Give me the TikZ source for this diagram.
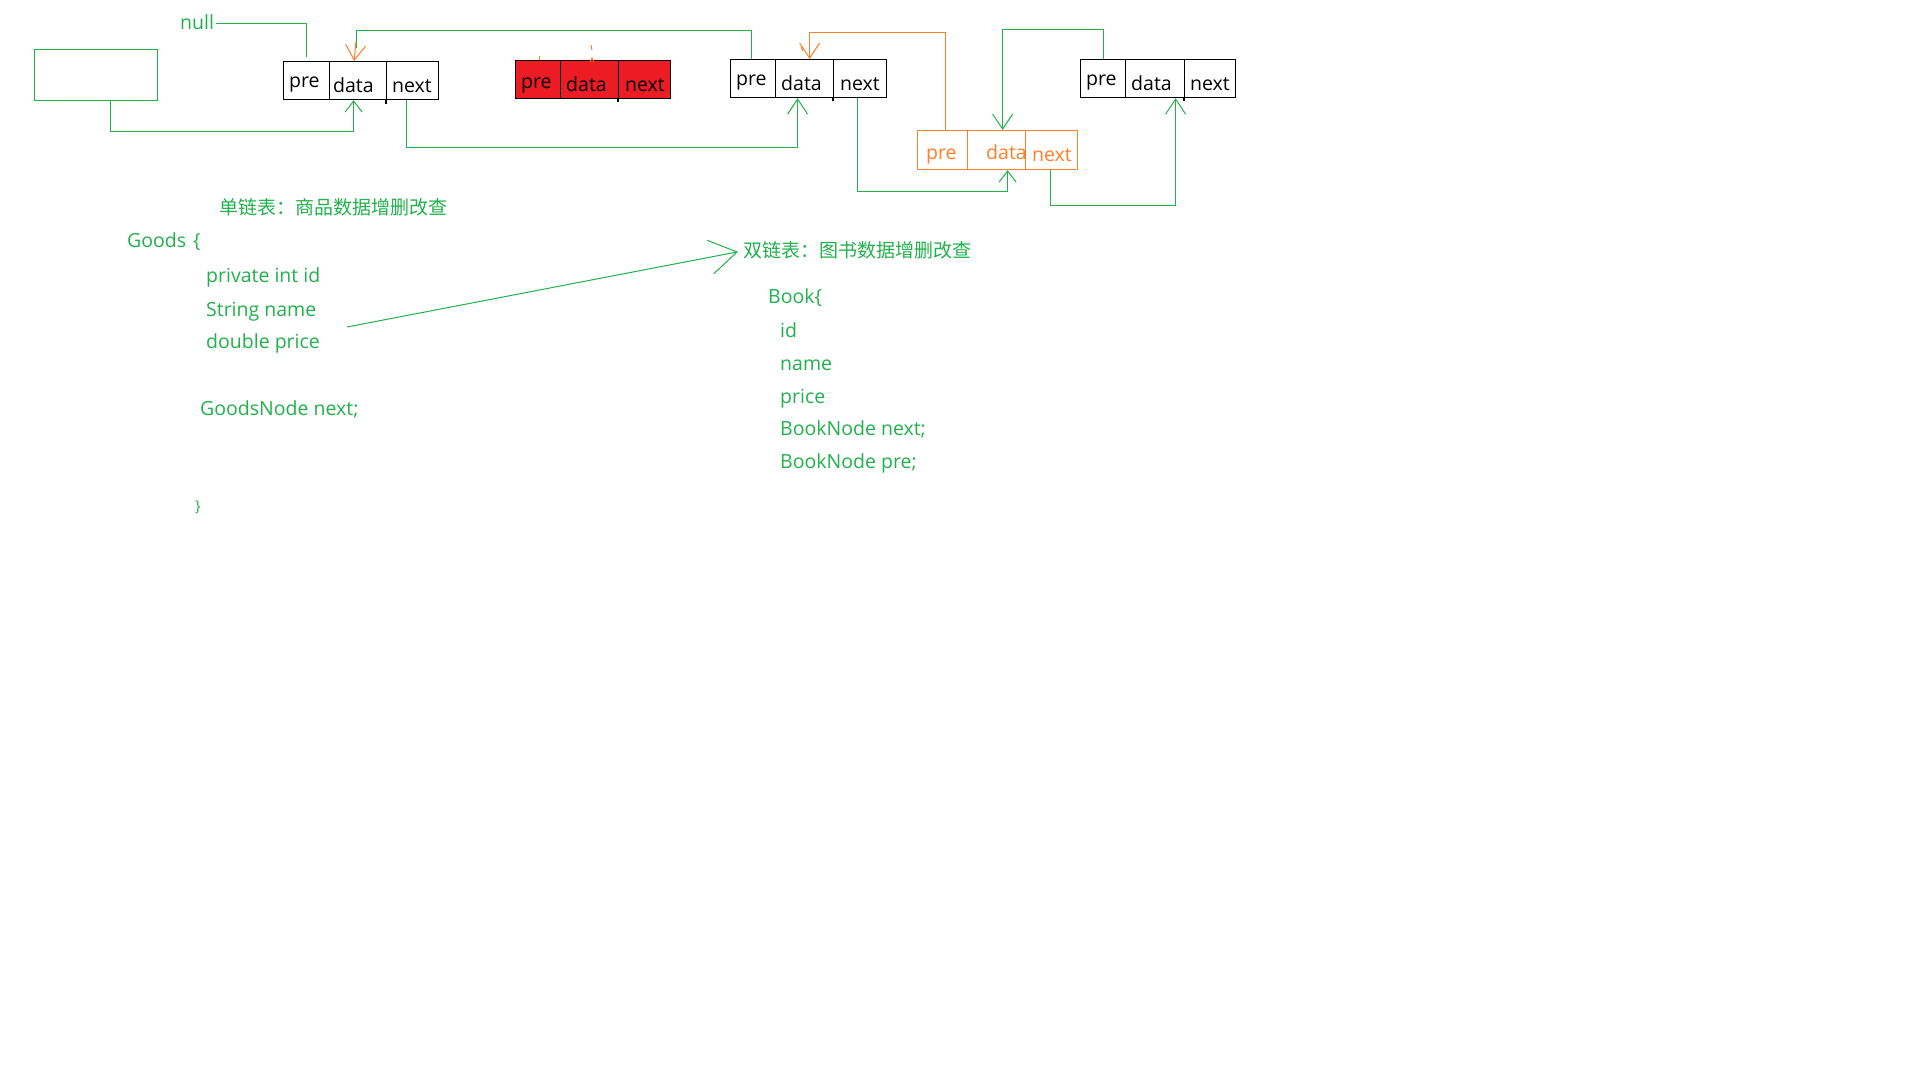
\documentclass[tikz,border=0pt]{standalone}
\usepackage{fontspec}
\setmainfont{Open Sans}
\newfontfamily\cjk{Noto Sans CJK SC}
\usetikzlibrary{arrows.meta}
\definecolor{gC}{HTML}{22B14C}
\definecolor{oC}{HTML}{FF7F27}
\definecolor{rC}{HTML}{ED1C24}
\begin{document}
\begin{tikzpicture}[x=1pt,y=-1pt,
  cell/.style={draw=black,line width=1.2pt,minimum height=38pt,inner sep=0pt,anchor=north west},
  ocell/.style={cell,draw=oC,minimum height=39pt},
  rcell/.style={cell,fill=rC},
  lbl/.style={inner sep=0pt,anchor=base west,font=\fontsize{19.5}{22}\selectfont},
  glbl/.style={lbl,text=gC},
  olbl/.style={lbl,text=oC},
  cjklbl/.style={inner sep=0pt,anchor=base west,text=gC,font=\cjk\fontsize{19}{22}\selectfont},
  gline/.style={draw=gC,line width=1pt},
  oline/.style={draw=oC,line width=1pt},
  tipS/.style={-{Straight Barb[length=15pt,width=20pt]}},
  tipM/.style={-{Straight Barb[length=11pt,width=17pt]}},
  tipL/.style={-{Straight Barb[length=27pt,width=34pt]}},
  stub/.style={draw=black,line width=1.2pt}
]
\fill[white] (0,0) rectangle (1920,1080);
\useasboundingbox (0,0) rectangle (1920,1080);

% head box and null
\node[draw=gC,line width=1.2pt,minimum width=123pt,minimum height=51pt,inner sep=0pt,anchor=north west] (head) at (34,49) {};
\node[glbl] (null) at (180,29) {null};

% node 1
\node[cell,minimum width=46pt] (n1pre) at (283,61) {};
\node[cell,minimum width=57pt] (n1data) at (329,61) {};
\node[cell,minimum width=52pt] (n1next) at (386,61) {};
\node[lbl] at (289,87) {pre};
\node[lbl] at (333,92) {data};
\node[lbl] at (392,92) {next};
\draw[stub] (n1next.south west) -- ++(0,4);

% red (deleted) node
\node[rcell,minimum width=45pt] (rpre) at (515,60) {};
\node[rcell,minimum width=58pt] (rdata) at (560,60) {};
\node[rcell,minimum width=52pt] (rnext) at (618,60) {};
\node[lbl] at (521,88) {pre};
\node[lbl] at (566,91) {data};
\node[lbl] at (625,91) {next};
\draw[stub] (rnext.south west) -- ++(0,3);

% node 3
\node[cell,minimum width=45pt] (n3pre) at (730,59) {};
\node[cell,minimum width=58pt] (n3data) at (775,59) {};
\node[cell,minimum width=53pt] (n3next) at (833,59) {};
\node[lbl] at (736,85) {pre};
\node[lbl] at (781,90) {data};
\node[lbl] at (840,90) {next};
\draw[stub] (n3next.south west) -- ++(0,3);

% node 4
\node[cell,minimum width=45pt] (n4pre) at (1080,59) {};
\node[cell,minimum width=59pt] (n4data) at (1125,59) {};
\node[cell,minimum width=51pt] (n4next) at (1184,59) {};
\node[lbl] at (1086,85) {pre};
\node[lbl] at (1131,90) {data};
\node[lbl] at (1190,90) {next};
\draw[stub] (n4next.south west) -- ++(0,3);

% orange (inserted) node
\node[ocell,minimum width=50pt] (opre) at (917,130) {};
\node[ocell,minimum width=58pt] (odata) at (967,130) {};
\node[ocell,minimum width=52pt] (onext) at (1025,130) {};
\node[olbl] at (926,159) {pre};
\node[olbl] at (986,159) {data};
\node[olbl] at (1032,161) {next};

% connectors
\draw[gline] ([xshift=2pt,yshift=-2pt]null.east) -| ([yshift=4pt]n1pre.north);
\draw[gline,tipM] ([xshift=14.5pt]head.south) -- ++(0,30) -| ([xshift=-4.5pt]n1data.south);
\draw[gline,tipS] ([xshift=-6pt]n1next.south) -- ++(0,47) -| ([xshift=-7pt]n3data.south);
\draw[gline] ([xshift=-1.5pt]n3pre.north) -- ++(0,-29) -| ([xshift=-1.5pt,yshift=13pt]n1data.north);
\coordinate (ofree) at (356,41);
\draw[oline,tipS] (ofree) -- ([xshift=-4pt]n1data.north);
\draw[oline,tipS] ([xshift=3pt]opre.north) -- ++(0,-98) -| ([xshift=5pt]n3data.north);
\draw[gline,tipM] ([xshift=-2.5pt]n3next.south) -- ++(0,93) -| ([xshift=11pt]odata.south);
\draw[gline,tipS] (n4pre.north) -- ++(0,-30) -| ([xshift=6pt]odata.north);
\draw[gline,tipS] ([xshift=-1pt]onext.south) -- ++(0,35) -| ([xshift=20.5pt]n4data.south);

% stray orange marks
\draw[oC,line width=1pt] (539,56) -- (539,60);
\draw[oC,line width=1pt] (591,45) -- (592,50);
\draw[oC,line width=1pt] (590,62) -- (592,58) -- (594,62);
\draw[oC,line width=1pt] (801,47) -- (803,51);

% single list text
\node[cjklbl] (stitle) at (219,214) {单链表：商品数据增删改查};
\node[glbl] (goods) at (127,247) {Goods\hspace{7pt}\{};
\node[glbl] (gid) at (206,282) {private int id};
\node[glbl] (gname) at (206,316) {String name};
\node[glbl] (gprice) at (206,348) {double price};
\node[glbl] (gnext) at (200,415) {GoodsNode next;};
\node[glbl,font=\fontsize{15}{18}\selectfont] (gend) at (195,511) {\}};

% double list text
\node[cjklbl] (dtitle) at (743,257) {双链表：图书数据增删改查};
\node[glbl] (book) at (768,303) {Book\{};
\node[glbl] (bid) at (780,337) {id};
\node[glbl] (bname) at (780,370) {name};
\node[glbl] (bprice) at (780,403) {price};
\node[glbl] (bnext) at (780,435) {BookNode next;};
\node[glbl] (bpre) at (780,468) {BookNode pre;};

\coordinate (gfrom) at (347,327);
\draw[gline,tipL] (gfrom) -- ([xshift=-5pt,yshift=-2pt]dtitle.west);
\end{tikzpicture}
\end{document}
